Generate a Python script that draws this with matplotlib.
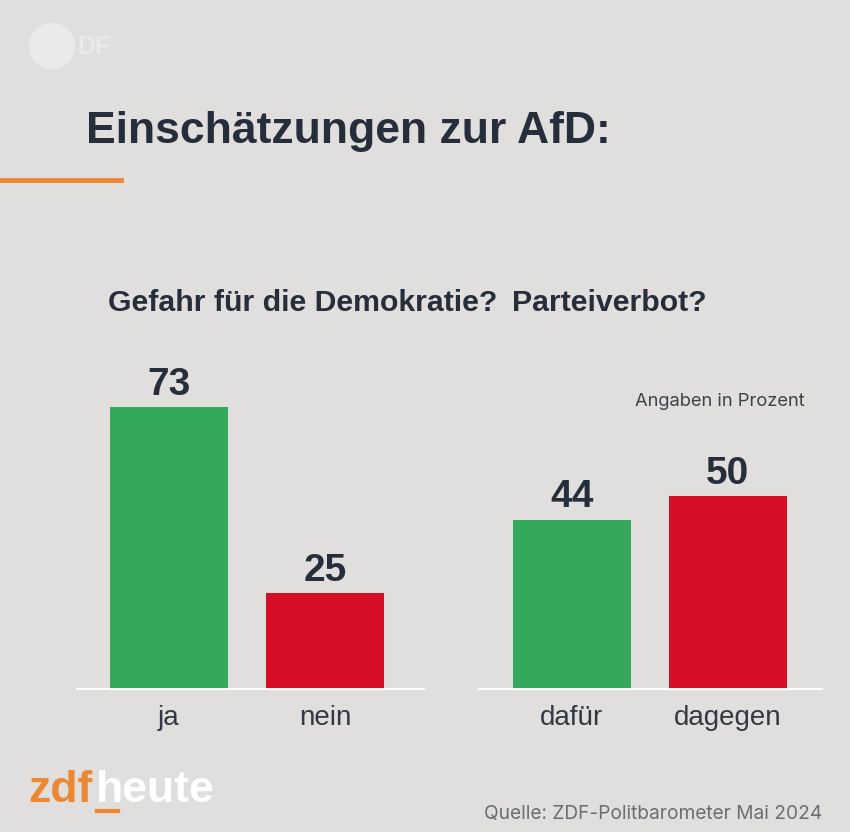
import matplotlib
matplotlib.use("Agg")
import matplotlib.pyplot as plt
from matplotlib.lines import Line2D
from matplotlib.patches import Ellipse

# data
gefahr_labels = ["ja", "nein"]
gefahr_values = [73, 25]
verbot_labels = ["dafür", "dagegen"]
verbot_values = [44, 50]

bg = "#e0dfdd"
green = "#35a95b"
red = "#d60f27"
dark = "#272e3b"
orange = "#ec8733"

W, H = 850, 832
plt.rcParams["font.family"] = ["Liberation Sans", "DejaVu Sans"]

fig = plt.figure(figsize=(W / 100, H / 100), dpi=100, facecolor=bg)


def fx(px):
    return px / W


def fy(py):
    # pixel from top -> figure fraction
    return 1 - py / H


# faint ZDF logo top left
fig.patches.append(Ellipse((fx(52), fy(46)), 46 / W, 46 / H, transform=fig.transFigure,
                           facecolor="#eaeae8", edgecolor="none"))
fig.text(fx(77), fy(47), "DF", fontsize=18, fontweight="bold", color="#eaeae8",
         va="center", ha="left")

# title + orange rule
fig.text(fx(86), fy(143), "Einschätzungen zur AfD:", fontsize=32, fontweight="bold",
         color=dark, va="baseline", ha="left")
fig.lines.append(Line2D([0, fx(121)], [fy(180), fy(180)], transform=fig.transFigure,
                        color=orange, lw=3.5))

# subtitles
fig.text(fx(108), fy(311), "Gefahr für die Demokratie?", fontsize=21.8, fontweight="bold",
         color=dark, va="baseline", ha="left")
fig.text(fx(512), fy(311), "Parteiverbot?", fontsize=21.8, fontweight="bold",
         color=dark, va="baseline", ha="left")

fig.text(fx(805), fy(406), "Angaben in Prozent", fontsize=13.2, color="#3c424d",
         va="baseline", ha="right", family=["Inter", "DejaVu Sans"])

bottom = fy(690)
height = 310 / H


def draw_panel(left_px, right_px, labels, values):
    ax = fig.add_axes([fx(left_px), bottom, (right_px - left_px) / W, height])
    ax.set_facecolor("none")
    xs = list(range(len(values)))
    ax.bar(xs, values, width=0.756, color=[green, red], zorder=2)
    ax.axhline(0, color="white", lw=3.5, zorder=3)
    for x, v in zip(xs, values):
        ax.annotate(str(v), (x, v), xytext=(0, 9), textcoords="offset points",
                    ha="center", va="baseline", fontsize=28, fontweight="bold", color=dark)
    ax.set_xticks(xs)
    ax.set_xticklabels(labels, fontsize=20, color="#333944")
    ax.tick_params(axis="x", length=0, pad=11)
    ax.set_yticks([])
    for s in ax.spines.values():
        s.set_visible(False)
    ax.set_ylim(0, 80)
    return ax


ax1 = draw_panel(76, 425, gefahr_labels, gefahr_values)
ax1.set_xlim(-0.596, 1.641)
ax2 = draw_panel(478, 823, verbot_labels, verbot_values)
ax2.set_xlim(-0.6, 1.61)

# footer: zdfheute logo and source
fig.text(fx(28), fy(802), "zdf", fontsize=32, fontweight="bold", color=orange,
         va="baseline", ha="left")
fig.text(fx(96), fy(802), "heute", fontsize=32, fontweight="bold", color="white",
         va="baseline", ha="left")
fig.lines.append(Line2D([fx(97), fx(118)], [fy(811), fy(811)], transform=fig.transFigure,
                        color=orange, lw=3))

fig.text(fx(822), fy(819), "Quelle: ZDF-Politbarometer Mai 2024", fontsize=13.8,
         color="#6a6e74", va="baseline", ha="right", family=["Inter", "DejaVu Sans"])

fig.savefig("out.png", dpi=100, facecolor=bg)
